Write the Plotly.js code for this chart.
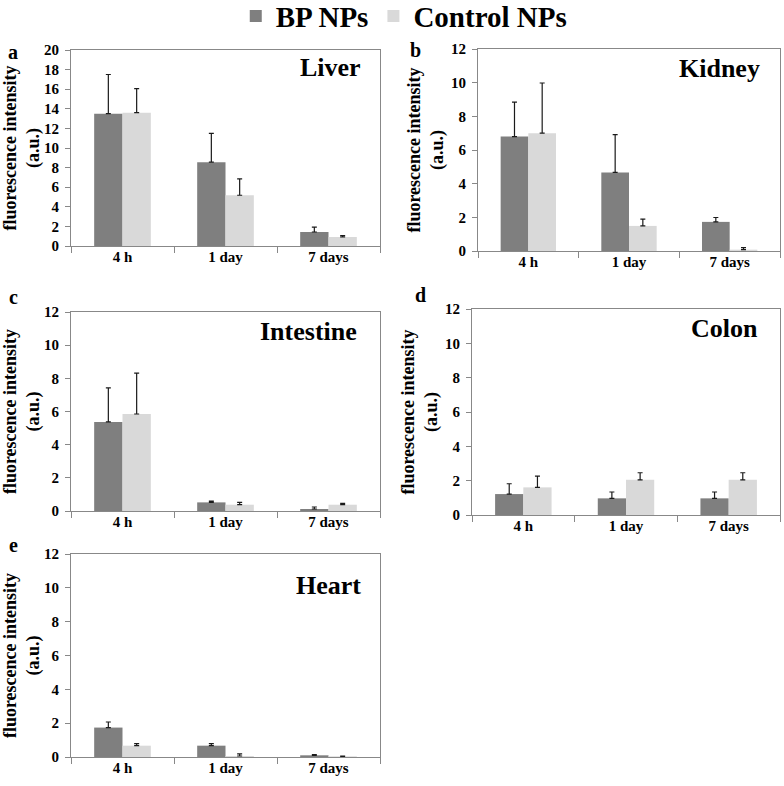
<!DOCTYPE html>
<html>
<head>
<meta charset="utf-8">
<script src="https://cdn.plot.ly/plotly-3.0.1.min.js"></script>
<style>html,body{margin:0;padding:0;background:#fff;}#chart{width:784px;height:786px;}</style>
</head>
<body>
<div id="chart"></div>
<script>
// ---- data ----
const categories = ["4 h", "1 day", "7 days"];
const seriesNames = ["BP NPs", "Control NPs"];
const organs = ["Liver", "Kidney", "Intestine", "Colon", "Heart"];
const panelLetters = ["a", "b", "c", "d", "e"];
const yMax = [20, 12, 12, 12, 12];

const liverBP = [13.5, 8.55, 1.43];
const liverBPErr = [4.0, 2.95, 0.5];
const liverCtrl = [13.6, 5.18, 0.92];
const liverCtrlErr = [2.45, 1.67, 0.14];

const kidneyBP = [6.8, 4.67, 1.73];
const kidneyBPErr = [2.04, 2.24, 0.26];
const kidneyCtrl = [7.0, 1.49, 0.08];
const kidneyCtrlErr = [2.98, 0.4, 0.12];

const intestineBP = [5.37, 0.52, 0.12];
const intestineBPErr = [2.05, 0.08, 0.12];
const intestineCtrl = [5.85, 0.38, 0.38];
const intestineCtrlErr = [2.47, 0.14, 0.08];

const colonBP = [1.22, 0.97, 0.97];
const colonBPErr = [0.6, 0.37, 0.37];
const colonCtrl = [1.61, 2.05, 2.05];
const colonCtrlErr = [0.66, 0.41, 0.41];

const heartBP = [1.74, 0.67, 0.1];
const heartBPErr = [0.33, 0.12, 0.04];
const heartCtrl = [0.67, 0.06, 0.04];
const heartCtrlErr = [0.12, 0.12, 0.02];

const bpValues = [liverBP, kidneyBP, intestineBP, colonBP, heartBP];
const bpErrors = [liverBPErr, kidneyBPErr, intestineBPErr, colonBPErr, heartBPErr];
const ctrlValues = [liverCtrl, kidneyCtrl, intestineCtrl, colonCtrl, heartCtrl];
const ctrlErrors = [liverCtrlErr, kidneyCtrlErr, intestineCtrlErr, colonCtrlErr, heartCtrlErr];

// ---- layout geometry (pixels) ----
const W = 784, H = 786;
const boxes = [
  {l: 71, r: 380, t: 50, b: 246},
  {l: 478, r: 780, t: 49, b: 251},
  {l: 71, r: 380, t: 312, b: 511},
  {l: 472, r: 780, t: 309, b: 515},
  {l: 71, r: 380, t: 554, b: 757}
];
const letterPos = [[13, 52], [415, 50], [13, 297], [420, 295], [13, 545]];
const namePos = [[330, 67], [719, 69], [308, 331], [724, 329], [328, 585]];

const FONT = "Liberation Serif";
const darkColor = "#7f7f7f";
const lightColor = "#d9d9d9";
const errColor = "#1a1a1a";
const b = s => "<b>" + s + "</b>";

const traces = [];
const layout = {
  width: W, height: H,
  margin: {l: 0, r: 0, t: 0, b: 0, autoexpand: false},
  paper_bgcolor: "#fff", plot_bgcolor: "#fff",
  font: {family: FONT, color: "#000"},
  barmode: "group", bargap: 0.45, bargroupgap: 0,
  showlegend: true,
  legend: {orientation: "h", x: 0.515, xanchor: "center", y: 1.012, yanchor: "top",
           bgcolor: "rgba(0,0,0,0)",
           font: {family: FONT, size: 29, color: "#000"},
           tracegroupgap: 0},
  annotations: []
};

for (let i = 0; i < 5; i++) {
  const sfx = i === 0 ? "" : String(i + 1);
  const xa = "x" + sfx, ya = "y" + sfx;
  const bx = boxes[i];
  traces.push({
    type: "bar", name: b(seriesNames[0]), x: categories.map(b), y: bpValues[i],
    xaxis: xa, yaxis: ya, marker: {color: darkColor},
    error_y: {type: "data", symmetric: false, array: bpErrors[i], arrayminus: [0, 0, 0],
              color: errColor, thickness: 1.2, width: 2.5},
    showlegend: i === 0, legendgroup: "bp", hoverinfo: "none"
  });
  traces.push({
    type: "bar", name: b(seriesNames[1]), x: categories.map(b), y: ctrlValues[i],
    xaxis: xa, yaxis: ya, marker: {color: lightColor},
    error_y: {type: "data", symmetric: false, array: ctrlErrors[i], arrayminus: [0, 0, 0],
              color: errColor, thickness: 1.2, width: 2.5},
    showlegend: i === 0, legendgroup: "ctrl", hoverinfo: "none"
  });
  layout["xaxis" + sfx] = {
    domain: [bx.l / W, bx.r / W], anchor: ya,
    type: "category", tickson: "boundaries", ticks: "outside", ticklen: 6,
    ticklabelstandoff: -3,
    tickcolor: "#888", showline: true, linecolor: "#888", linewidth: 1, mirror: true,
    showgrid: false, zeroline: false,
    tickfont: {family: FONT, size: 15, color: "#000"}
  };
  const tv = [];
  for (let v = 0; v <= yMax[i]; v += 2) tv.push(v);
  layout["yaxis" + sfx] = {
    domain: [1 - bx.b / H, 1 - bx.t / H], anchor: xa,
    range: [0, yMax[i]], tickvals: tv, ticktext: tv.map(v => b(String(v))),
    ticks: "outside", ticklen: 5, tickcolor: "#888", ticklabelstandoff: 3,
    showline: true, linecolor: "#888", linewidth: 1, mirror: true,
    showgrid: false, zeroline: false,
    tickfont: {family: FONT, size: 15, color: "#000"},
    title: {text: b("fluorescence intensity") + "<br>" + b("(a.u.)"), standoff: 2,
            font: {family: FONT, size: 18, color: "#000"}}
  };
  layout.annotations.push({
    text: b(panelLetters[i]), xref: "paper", yref: "paper",
    x: letterPos[i][0] / W, y: 1 - letterPos[i][1] / H, xanchor: "center", yanchor: "middle",
    showarrow: false, font: {family: FONT, size: 20, color: "#000"}
  });
  layout.annotations.push({
    text: b(organs[i]), xref: "paper", yref: "paper",
    x: namePos[i][0] / W, y: 1 - namePos[i][1] / H, xanchor: "center", yanchor: "middle",
    showarrow: false, font: {family: FONT, size: 26, color: "#000"}
  });
}

Plotly.newPlot("chart", traces, layout, {staticPlot: true, displayModeBar: false});
</script>
</body>
</html>
